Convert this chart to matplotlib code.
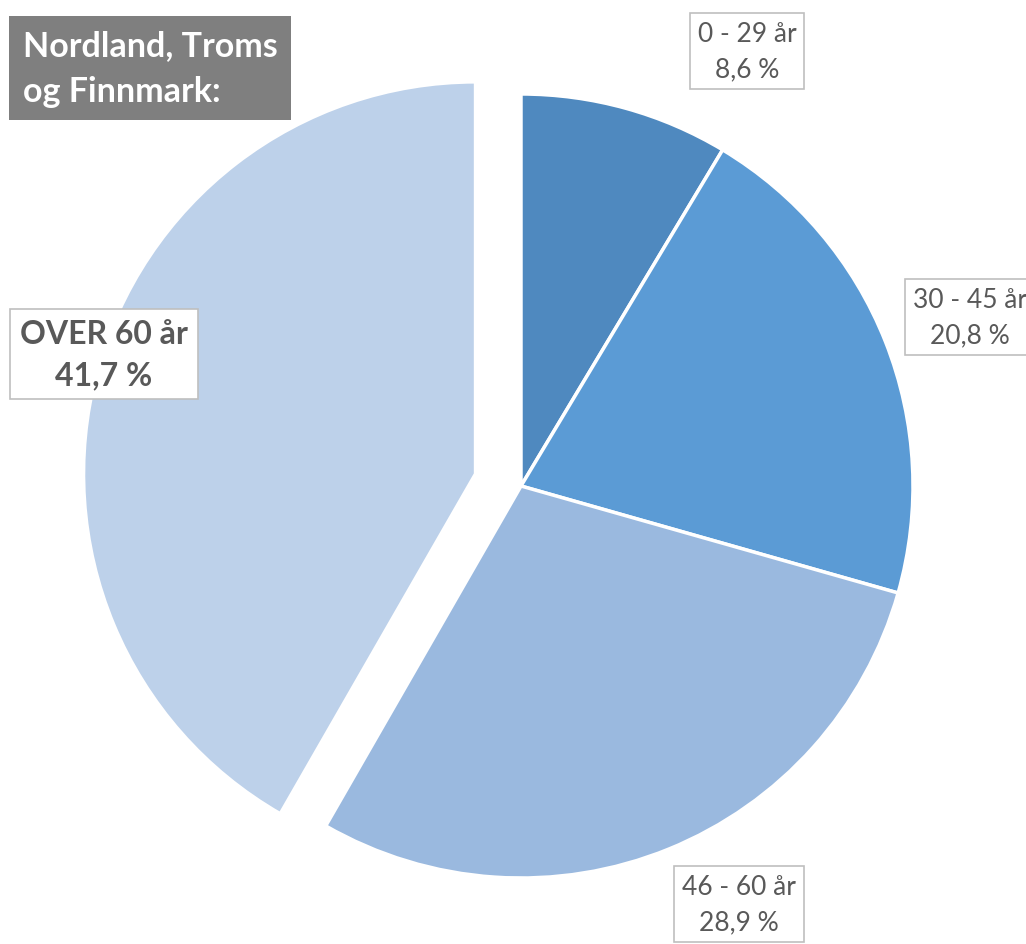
import matplotlib.pyplot as plt

# Aldersfordeling - Nordland, Troms og Finnmark
aldersgrupper = ['0 - 29 år', '30 - 45 år', '46 - 60 år', 'OVER 60 år']
andeler = [8.6, 20.8, 28.9, 41.7]
farger = ['#4F89BF', '#5B9BD5', '#9AB9DF', '#BDD1EA']
utskilt = [0, 0, 0, 0.12]

plt.rcParams['font.family'] = ['Lato', 'DejaVu Sans']

fig = plt.figure(figsize=(10.26, 9.45), dpi=100)
ax = fig.add_axes([0, 0, 1, 1])

r = 392.0
ax.pie(andeler, colors=farger, explode=utskilt, startangle=90, counterclock=False,
       radius=1, wedgeprops=dict(edgecolor='white', linewidth=2.5))
ax.set_xlim(-521 / r, (1026 - 521) / r)
ax.set_ylim(-(945 - 487) / r, 487 / r)
ax.set_aspect('equal')
ax.axis('off')

def px(x, y):
    return ((x - 521) / r, (487 - y) / r)

# etiketten for 30 - 45 år er kuttet i høyre kant, som i originalen
etikett_pos = [(747, 52), (970, 318), (739, 905), (104, 355)]
for i, (navn, verdi) in enumerate(zip(aldersgrupper, andeler)):
    tekst = f"{navn}\n{verdi:.1f} %".replace('.', ',')
    stor = navn.startswith('OVER')
    ax.text(*px(*etikett_pos[i]), tekst, ha='center', va='center',
            fontsize=23 if stor else 19, fontweight='bold' if stor else 'normal',
            color='#595959', linespacing=1.5,
            bbox=dict(boxstyle='square,pad=0.3', fc='white', ec='#BFBFBF', lw=1.2))

fig.text(23 / 1026, 1 - 69 / 945, 'Nordland, Troms\nog Finnmark:', ha='left', va='center',
         fontsize=24.5, fontweight='bold', color='white', linespacing=1.5,
         bbox=dict(boxstyle='square,pad=0.4', fc='#7F7F7F', ec='none'))

fig.savefig('out.png', dpi=100)
